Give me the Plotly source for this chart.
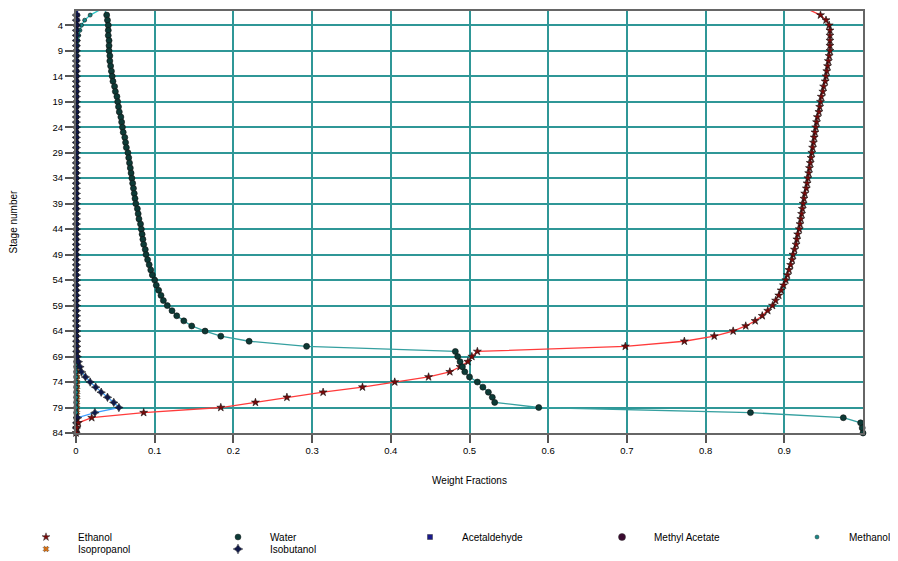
import plotly.graph_objects as go

stages = list(range(1, 85))

ethanol = [0.932, 0.946, 0.953, 0.957, 0.958, 0.958, 0.958, 0.958, 0.958, 0.957,
           0.956, 0.955, 0.954, 0.953, 0.952, 0.950, 0.949, 0.947, 0.946, 0.945,
           0.944, 0.942, 0.941, 0.940, 0.939, 0.938, 0.937, 0.936, 0.935, 0.934,
           0.933, 0.932, 0.931, 0.930, 0.929, 0.928, 0.926, 0.925, 0.924, 0.923,
           0.922, 0.921, 0.920, 0.919, 0.917, 0.916, 0.915, 0.913, 0.911, 0.910,
           0.908, 0.906, 0.904, 0.902, 0.899, 0.896, 0.893, 0.889, 0.885, 0.879,
           0.872, 0.863, 0.851, 0.835, 0.811, 0.773, 0.698, 0.510, 0.503, 0.498,
           0.488, 0.475, 0.448, 0.405, 0.364, 0.314, 0.268, 0.228, 0.184, 0.086,
           0.020, 0.003, 0.001, 0.000]

water = [0.037, 0.039, 0.040, 0.041, 0.041, 0.041, 0.042, 0.042, 0.042, 0.043,
         0.043, 0.044, 0.045, 0.046, 0.047, 0.049, 0.050, 0.052, 0.053, 0.054,
         0.055, 0.057, 0.058, 0.059, 0.060, 0.062, 0.063, 0.064, 0.066, 0.067,
         0.068, 0.069, 0.070, 0.071, 0.072, 0.073, 0.074, 0.075, 0.076, 0.078,
         0.079, 0.080, 0.082, 0.083, 0.084, 0.085, 0.086, 0.088, 0.089, 0.091,
         0.093, 0.095, 0.097, 0.100, 0.102, 0.105, 0.108, 0.111, 0.116, 0.122,
         0.128, 0.137, 0.147, 0.164, 0.184, 0.220, 0.293, 0.482, 0.485, 0.488,
         0.491, 0.494, 0.500, 0.510, 0.517, 0.524, 0.529, 0.532, 0.588, 0.857,
         0.975, 0.997, 0.999, 1.000]

acetaldehyde = [0.0020, 0.0018, 0.0016, 0.0015, 0.0014, 0.0013, 0.0012, 0.0012, 0.0011, 0.0011,
                0.0010, 0.0010, 0.0010, 0.0009, 0.0009, 0.0009, 0.0008, 0.0008, 0.0008, 0.0008,
                0.0007, 0.0007, 0.0007, 0.0007, 0.0007, 0.0006, 0.0006, 0.0006, 0.0006, 0.0006,
                0.0005, 0.0005, 0.0005, 0.0005, 0.0005, 0.0005, 0.0004, 0.0004, 0.0004, 0.0004,
                0.0004, 0.0004, 0.0004, 0.0003, 0.0003, 0.0003, 0.0003, 0.0003, 0.0003, 0.0003,
                0.0003, 0.0002, 0.0002, 0.0002, 0.0002, 0.0002, 0.0002, 0.0002, 0.0002, 0.0002,
                0.0001, 0.0001, 0.0001, 0.0001, 0.0001, 0.0001, 0.0001, 0.0001, 0.0001, 0.0000,
                0.0000, 0.0000, 0.0000, 0.0000, 0.0000, 0.0000, 0.0000, 0.0000, 0.0000, 0.0000,
                0.0000, 0.0000, 0.0000, 0.0000]

methyl_acetate = [0.0015, 0.0012, 0.0010, 0.0009, 0.0008, 0.0007, 0.0007, 0.0006, 0.0006, 0.0005,
                  0.0005, 0.0005, 0.0004, 0.0004, 0.0004, 0.0004, 0.0003, 0.0003, 0.0003, 0.0003,
                  0.0003, 0.0003, 0.0002, 0.0002, 0.0002, 0.0002, 0.0002, 0.0002, 0.0002, 0.0002,
                  0.0002, 0.0001, 0.0001, 0.0001, 0.0001, 0.0001, 0.0001, 0.0001, 0.0001, 0.0001,
                  0.0001, 0.0001, 0.0001, 0.0001, 0.0001, 0.0001, 0.0000, 0.0000, 0.0000, 0.0000,
                  0.0000, 0.0000, 0.0000, 0.0000, 0.0000, 0.0000, 0.0000, 0.0000, 0.0000, 0.0000,
                  0.0000, 0.0000, 0.0000, 0.0000, 0.0000, 0.0000, 0.0000, 0.0000, 0.0000, 0.0000,
                  0.0000, 0.0000, 0.0000, 0.0000, 0.0000, 0.0000, 0.0000, 0.0000, 0.0000, 0.0000,
                  0.0000, 0.0000, 0.0000, 0.0000]

methanol = [0.0300, 0.0180, 0.0110, 0.0070, 0.0050, 0.0035, 0.0025, 0.0018, 0.0013, 0.0010,
            0.0008, 0.0006, 0.0005, 0.0004, 0.0004, 0.0003, 0.0003, 0.0003, 0.0002, 0.0002,
            0.0002, 0.0002, 0.0002, 0.0002, 0.0001, 0.0001, 0.0001, 0.0001, 0.0001, 0.0001,
            0.0001, 0.0001, 0.0001, 0.0001, 0.0001, 0.0001, 0.0001, 0.0001, 0.0001, 0.0001,
            0.0001, 0.0001, 0.0001, 0.0001, 0.0001, 0.0001, 0.0001, 0.0001, 0.0001, 0.0001,
            0.0001, 0.0001, 0.0001, 0.0001, 0.0001, 0.0001, 0.0001, 0.0001, 0.0001, 0.0001,
            0.0001, 0.0001, 0.0001, 0.0001, 0.0001, 0.0001, 0.0001, 0.0001, 0.0001, 0.0001,
            0.0001, 0.0001, 0.0001, 0.0001, 0.0001, 0.0001, 0.0001, 0.0001, 0.0001, 0.0001,
            0.0000, 0.0000, 0.0000, 0.0000]

isopropanol = [0.0000, 0.0000, 0.0000, 0.0000, 0.0000, 0.0000, 0.0000, 0.0000, 0.0000, 0.0000,
               0.0000, 0.0000, 0.0000, 0.0000, 0.0000, 0.0000, 0.0000, 0.0000, 0.0000, 0.0000,
               0.0000, 0.0000, 0.0000, 0.0000, 0.0000, 0.0000, 0.0000, 0.0000, 0.0000, 0.0000,
               0.0000, 0.0000, 0.0000, 0.0000, 0.0000, 0.0000, 0.0000, 0.0000, 0.0000, 0.0000,
               0.0000, 0.0000, 0.0000, 0.0000, 0.0000, 0.0000, 0.0000, 0.0000, 0.0000, 0.0000,
               0.0001, 0.0001, 0.0001, 0.0001, 0.0002, 0.0002, 0.0002, 0.0003, 0.0003, 0.0004,
               0.0005, 0.0006, 0.0007, 0.0008, 0.0010, 0.0012, 0.0014, 0.0016, 0.0018, 0.0020,
               0.0021, 0.0022, 0.0022, 0.0022, 0.0022, 0.0022, 0.0022, 0.0021, 0.0020, 0.0019,
               0.0017, 0.0015, 0.0012, 0.0010]

isobutanol = [0.0004, 0.0004, 0.0004, 0.0004, 0.0004, 0.0004, 0.0004, 0.0004, 0.0004, 0.0004,
              0.0004, 0.0004, 0.0004, 0.0004, 0.0004, 0.0004, 0.0004, 0.0004, 0.0004, 0.0004,
              0.0004, 0.0004, 0.0004, 0.0004, 0.0004, 0.0004, 0.0004, 0.0004, 0.0004, 0.0004,
              0.0004, 0.0004, 0.0004, 0.0004, 0.0004, 0.0004, 0.0004, 0.0004, 0.0004, 0.0004,
              0.0004, 0.0004, 0.0004, 0.0004, 0.0004, 0.0004, 0.0004, 0.0004, 0.0004, 0.0004,
              0.0005, 0.0005, 0.0005, 0.0005, 0.0005, 0.0005, 0.0005, 0.0005, 0.0006, 0.0006,
              0.0006, 0.0006, 0.0007, 0.0007, 0.0008, 0.0008, 0.0009, 0.0010, 0.0015, 0.0030,
              0.0050, 0.0070, 0.0120, 0.0180, 0.0250, 0.0320, 0.0400, 0.0480, 0.0545, 0.0240,
              0.0020, 0.0008, 0.0004, 0.0002]

x_ticks = [0, 0.1, 0.2, 0.3, 0.4, 0.5, 0.6, 0.7, 0.8, 0.9]
x_tick_text = ["0", "0.1", "0.2", "0.3", "0.4", "0.5", "0.6", "0.7", "0.8", "0.9"]
y_ticks = [4, 9, 14, 19, 24, 29, 34, 39, 44, 49, 54, 59, 64, 69, 74, 79, 84]

FONT = "Liberation Sans, Arial, sans-serif"

series = [
    # name, values, line color, marker symbol, marker color, marker size, legend size, legend
    ("Ethanol", ethanol, "#ff3b3b", "star", "#7a0a0a", 6, 6, "legend"),
    ("Water", water, "#35a0a0", "circle", "#0d3a36", 6, 6, "legend"),
    ("Acetaldehyde", acetaldehyde, "#1a1a8c", "square", "#1a1a8c", 4, 5, "legend"),
    ("Methyl Acetate", methyl_acetate, "#3a0a30", "circle", "#3a0a30", 4, 7, "legend"),
    ("Methanol", methanol, "#2ec8c8", "circle", "#168888", 4, 4, "legend3"),
    ("Isopropanol", isopropanol, "#ff8c1a", "x", "#e0700a", 4, 5, "legend2"),
    ("Isobutanol", isobutanol, "#3c9cff", "star-diamond", "#101848", 6, 7, "legend2"),
]

fig = go.Figure()

draw_order = ["Isopropanol", "Methyl Acetate", "Acetaldehyde", "Methanol",
              "Isobutanol", "Ethanol", "Water"]
by_name = {s[0]: s for s in series}
for nm in draw_order:
    name, vals, lc, sym, mc, ms, lms, lg = by_name[nm]
    fig.add_trace(go.Scatter(
        x=vals, y=stages, mode="lines+markers", name=name,
        line=dict(color=lc, width=1.3),
        marker=dict(symbol=sym, color=mc, size=ms,
                    line=dict(color="#111111", width=0.6)),
        cliponaxis=False, showlegend=False, hoverinfo="skip",
    ))

# legend entries (markers only, like the reference legend)
for name, vals, lc, sym, mc, ms, lms, lg in series:
    fig.add_trace(go.Scatter(
        x=[None], y=[None], mode="markers", name=name,
        marker=dict(symbol=sym, color=mc, size=lms,
                    line=dict(color="#333333", width=0.5)),
        showlegend=True, legend=lg,
    ))

legend_common = dict(
    orientation="h", xanchor="left", yanchor="middle",
    font=dict(family=FONT, size=10, color="#000000"),
    bgcolor="rgba(0,0,0,0)", borderwidth=0,
    itemwidth=54, entrywidth=123, entrywidthmode="pixels",
    itemclick=False, itemdoubleclick=False,
)

PLOT_H = 425
row1_y = -(529 - PLOT_H) / 422
row2_y = -(541 - PLOT_H) / 422

fig.update_layout(
    width=890, height=553, autosize=False,
    margin=dict(l=68, r=35, t=3, b=128, autoexpand=False),
    paper_bgcolor="white", plot_bgcolor="white",
    font=dict(family=FONT, size=10, color="#000000"),
    legend=dict(x=(6 - 68) / 787, y=row1_y, **legend_common),
    legend3=dict(x=(777 - 68) / 787, y=row1_y, **legend_common),
    legend2=dict(x=(6 - 68) / 787, y=row2_y, **legend_common),
    xaxis=dict(
        range=[0, 1], tickvals=x_ticks, ticktext=x_tick_text,
        showgrid=True, gridcolor="#2f9797", gridwidth=2, zeroline=False,
        showline=True, linecolor="#666666", linewidth=2, mirror=True,
        ticks="outside", ticklen=8, tickwidth=2, tickcolor="#555555",
        tickfont=dict(family=FONT, size=9.5, color="#000000"),
        title=dict(text="Weight Fractions", standoff=22,
                   font=dict(family=FONT, size=10, color="#000000")),
    ),
    yaxis=dict(
        range=[84, 1.2], tickvals=y_ticks,
        showgrid=True, gridcolor="#2f9797", gridwidth=2, zeroline=False,
        showline=True, linecolor="#666666", linewidth=2, mirror=True,
        ticks="outside", ticklen=9, tickwidth=2, tickcolor="#555555",
        tickfont=dict(family=FONT, size=9.5, color="#000000"),
        title=dict(text="Stage number", standoff=38,
                   font=dict(family=FONT, size=10, color="#000000")),
    ),
)

fig.write_html("out.html")
